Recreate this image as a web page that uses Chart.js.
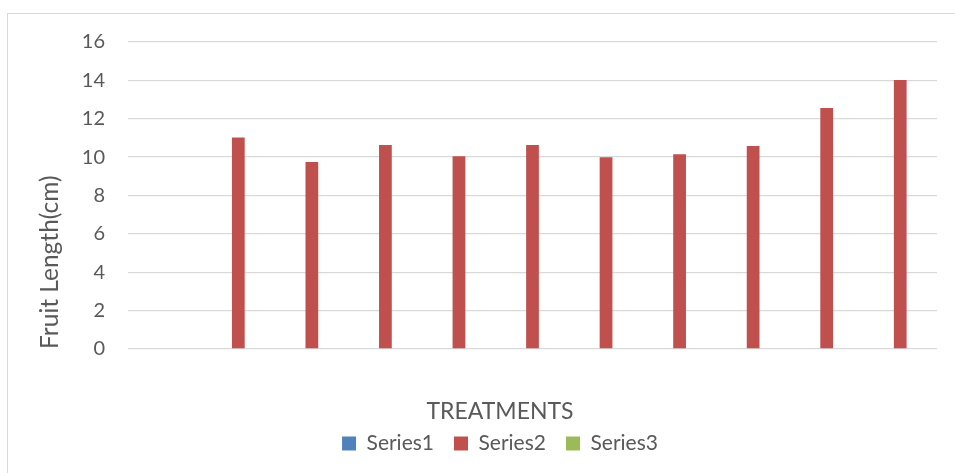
<!DOCTYPE html>
<html>
<head>
<meta charset="utf-8">
<script src="https://cdn.jsdelivr.net/npm/chart.js@4"></script>
<style>
  html, body { margin: 0; padding: 0; background: #ffffff; overflow: hidden; }
  body { width: 955px; height: 473px; position: relative; }
  #frame { position: absolute; left: 7px; top: 13px; width: 1000px; height: 470px; border: 1px solid #d9d9d9; background: #fff; }
  #c { display: block; }
</style>
</head>
<body>
<div id="frame"><canvas id="c" width="1000" height="458"></canvas></div>
<script>
const categories = ['1', '2', '3', '4', '5', '6', '7', '8', '9', '10', '11'];
const series1 = [null, null, null, null, null, null, null, null, null, null, null];
const series2 = [null, 11.02, 9.74, 10.63, 10.04, 10.63, 10.0, 10.15, 10.58, 12.56, 14.02];
const series3 = [null, null, null, null, null, null, null, null, null, null, null];
const seriesNames = ['Series1', 'Series2', 'Series3'];
const yTicks = [0, 2, 4, 6, 8, 10, 12, 14, 16];
const yTitle = 'Fruit Length(cm)';
const xTitle = 'TREATMENTS';

const txt = '#595959';
const grid = '#d9d9d9';
const FONT = 'Lato';

new Chart(document.getElementById('c'), {
  type: 'bar',
  data: {
    labels: categories,
    datasets: [
      { label: seriesNames[0], data: series1, backgroundColor: '#4F81BD' },
      { label: seriesNames[1], data: series2, backgroundColor: '#C0504D' },
      { label: seriesNames[2], data: series3, backgroundColor: '#9BBB59' }
    ]
  },
  options: {
    responsive: false,
    animation: false,
    events: [],
    categoryPercentage: 0.52,
    barPercentage: 1.0,
    layout: { padding: { left: 0, right: 16, top: 28, bottom: 8 } },
    scales: {
      x: {
        ticks: { display: false },
        grid: { display: false },
        border: { display: false },
        afterFit: (s) => { s.height = 48.4; }
      },
      y: {
        min: yTicks[0],
        max: yTicks[yTicks.length - 1],
        afterBuildTicks: (s) => { s.ticks = yTicks.map(v => ({ value: v })); },
        ticks: { color: txt, font: { family: FONT, size: 20 }, padding: 23 },
        grid: { color: grid, lineWidth: 1.3, drawTicks: false },
        border: { display: false },
        title: { display: true, text: yTitle, color: txt, align: 'start', font: { family: FONT, size: 24.5 }, padding: { top: 27.3, bottom: 0 } },
        afterFit: (s) => { s.width = 120; s.paddingTop = 12; s.paddingBottom = 12; }
      },
      pad: {
        type: 'linear',
        position: 'right',
        display: true,
        ticks: { display: false },
        grid: { display: false },
        border: { display: false },
        afterFit: (s) => { s.width = 55; }
      }
    },
    plugins: {
      tooltip: { enabled: false },
      title: {
        display: true,
        text: xTitle,
        position: 'bottom',
        weight: 500,
        color: txt,
        font: { family: FONT, size: 23, weight: 'normal' },
        padding: { top: 0, bottom: -12 }
      },
      legend: {
        position: 'bottom',
        labels: {
          color: txt,
          font: { family: FONT, size: 21 },
          boxWidth: 14,
          boxHeight: 14,
          padding: 20
        }
      }
    }
  }
});
</script>
</body>
</html>
